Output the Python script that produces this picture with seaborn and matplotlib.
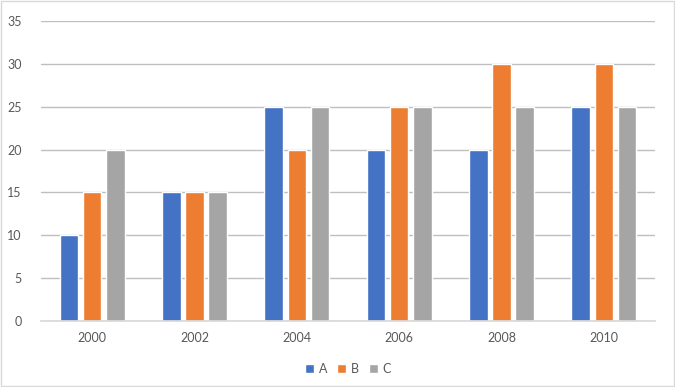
import matplotlib
matplotlib.use("Agg")
import matplotlib.pyplot as plt
import pandas as pd
import seaborn as sns
from matplotlib.patches import Rectangle

years = ["2000", "2002", "2004", "2006", "2008", "2010"]
series_a = [10, 15, 25, 20, 20, 25]
series_b = [15, 15, 20, 25, 30, 30]
series_c = [20, 15, 25, 25, 25, 25]
series_names = ["A", "B", "C"]
colors = ["#4472C4", "#ED7D31", "#A5A5A5"]

df = pd.DataFrame({
    "year": years * 3,
    "value": series_a + series_b + series_c,
    "series": [s for s in series_names for _ in years],
})

sns.set_theme(style="white")
plt.rcParams["font.family"] = ["Lato", "DejaVu Sans"]

fig = plt.figure(figsize=(6.75, 3.87), dpi=100)
ax = fig.add_axes([41 / 675, 1 - 321 / 387, 614 / 675, 300 / 387])

sns.barplot(data=df, x="year", y="value", hue="series", order=years,
            hue_order=series_names, palette=colors, width=0.68, gap=0.2,
            saturation=1, ax=ax, legend=True)

ax.set_ylim(0, 35)
ax.set_yticks(range(0, 36, 5))
ax.set_xlim(-0.5, len(years) - 0.5)
ax.yaxis.grid(True, color="#BFBFBF", linewidth=1)
ax.set_axisbelow(True)
for side in ["top", "right", "left"]:
    ax.spines[side].set_visible(False)
ax.spines["bottom"].set_color("#D9D9D9")
ax.set_xlabel("")
ax.set_ylabel("")
ax.tick_params(axis="both", length=0, labelsize=9, colors="#595959", pad=8)
ax.tick_params(axis="y", pad=14)

ax.legend(loc="center", bbox_to_anchor=(0.5, -0.16), ncol=3, frameon=False,
          fontsize=9, handlelength=0.7, handleheight=0.7, handletextpad=0.4,
          columnspacing=0.8, labelcolor="#595959")

fig.patches.append(Rectangle((0.002, 0.003), 0.996, 0.994, transform=fig.transFigure,
                             fill=False, edgecolor="#D9D9D9", linewidth=1))

fig.savefig("out.png", dpi=100)
